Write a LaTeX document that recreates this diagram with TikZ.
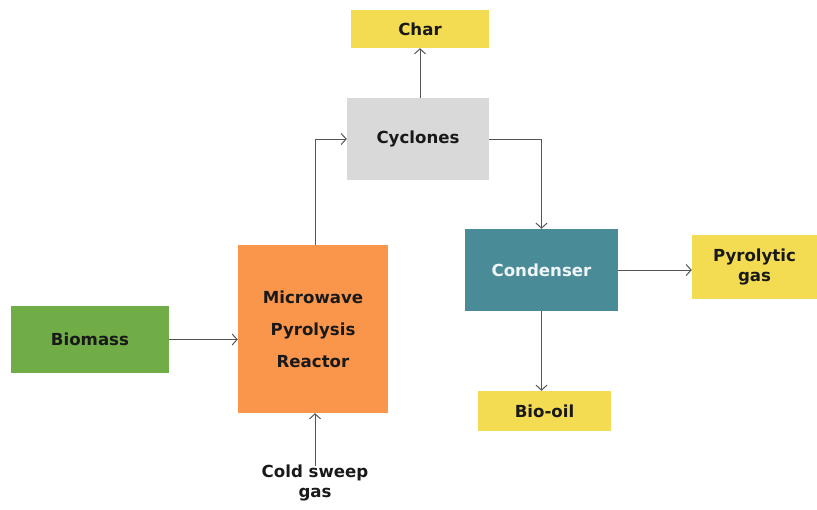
\documentclass[tikz,border=0pt]{standalone}
\usepackage{fontspec}
\setmainfont{DejaVu Sans}
\usepackage{xcolor}
\usepackage{tikz}
\usetikzlibrary{arrows.meta}

\definecolor{BoxGreen}{HTML}{70AD47}
\definecolor{BoxOrange}{HTML}{F9964B}
\definecolor{BoxGrey}{HTML}{D9D9D9}
\definecolor{BoxTeal}{HTML}{4A8B98}
\definecolor{BoxYellow}{HTML}{F4DC52}
\definecolor{FlowGrey}{HTML}{555555}

\begin{document}
\begin{tikzpicture}[x=1pt,y=-1pt,
		font=\fontsize{16.6}{20}\selectfont\bfseries,
		unit/.style={inner sep=0pt, align=center, text=black!90},
		flow/.style={draw=FlowGrey, line width=1pt, -{Straight Barb[length=5pt,width=11pt]}}
	]
	\useasboundingbox (0,0) rectangle (817,509);
	
	% Biomass
	\node [unit,
		fill=BoxGreen,
		minimum width=158pt,
		minimum height=67pt
		] (bm) at (90,339.5) {Biomass};
	
	% Reactor
	\node [unit,
		fill=BoxOrange,
		minimum width=150pt,
		minimum height=168pt
		] (mpr) at (313,329) {Microwave\\[12pt]Pyrolysis\\[12pt]Reactor};
	
	% Cyclones
	\node [unit,
		fill=BoxGrey,
		minimum width=142pt,
		minimum height=82pt
		] (cy) at (418,139) {Cyclones};
	
	% Char
	\node [unit,
		fill=BoxYellow,
		minimum width=138pt,
		minimum height=38pt
		] (ch) at (420,29) {Char};
	
	% Condenser
	\node [unit,
		fill=BoxTeal,
		text=white!92!BoxTeal,
		minimum width=153pt,
		minimum height=82pt
		] (cd) at (541.5,270) {Condenser};
	
	% Pyrolytic gas
	\node [unit,
		fill=BoxYellow,
		minimum width=125pt,
		minimum height=64pt
		] (pg) at (754.5,267) {Pyrolytic\\gas};
	
	% Bio-oil
	\node [unit,
		fill=BoxYellow,
		minimum width=133pt,
		minimum height=40pt
		] (bo) at (544.5,411) {Bio-oil};
	
	% Cold sweep gas
	\node [unit] (csg) at (315,483) {Cold sweep\\gas};
	
	% Arrows
	\draw[flow] (bm.east) -- (mpr.west |- bm.east);
	\draw[flow] (mpr.north -| csg.north) |- (cy.west);
	\draw[flow] (cy.east) -| (cd.north);
	\draw[flow] (cy.north -| ch.south) -- (ch.south);
	\draw[flow] (cd.east) -- (pg.west |- cd.east);
	\draw[flow] (cd.south) -- (bo.north -| cd.south);
	\draw[flow] ([yshift=-1pt]csg.north) -- (mpr.south -| csg.north);
\end{tikzpicture}
\end{document}
